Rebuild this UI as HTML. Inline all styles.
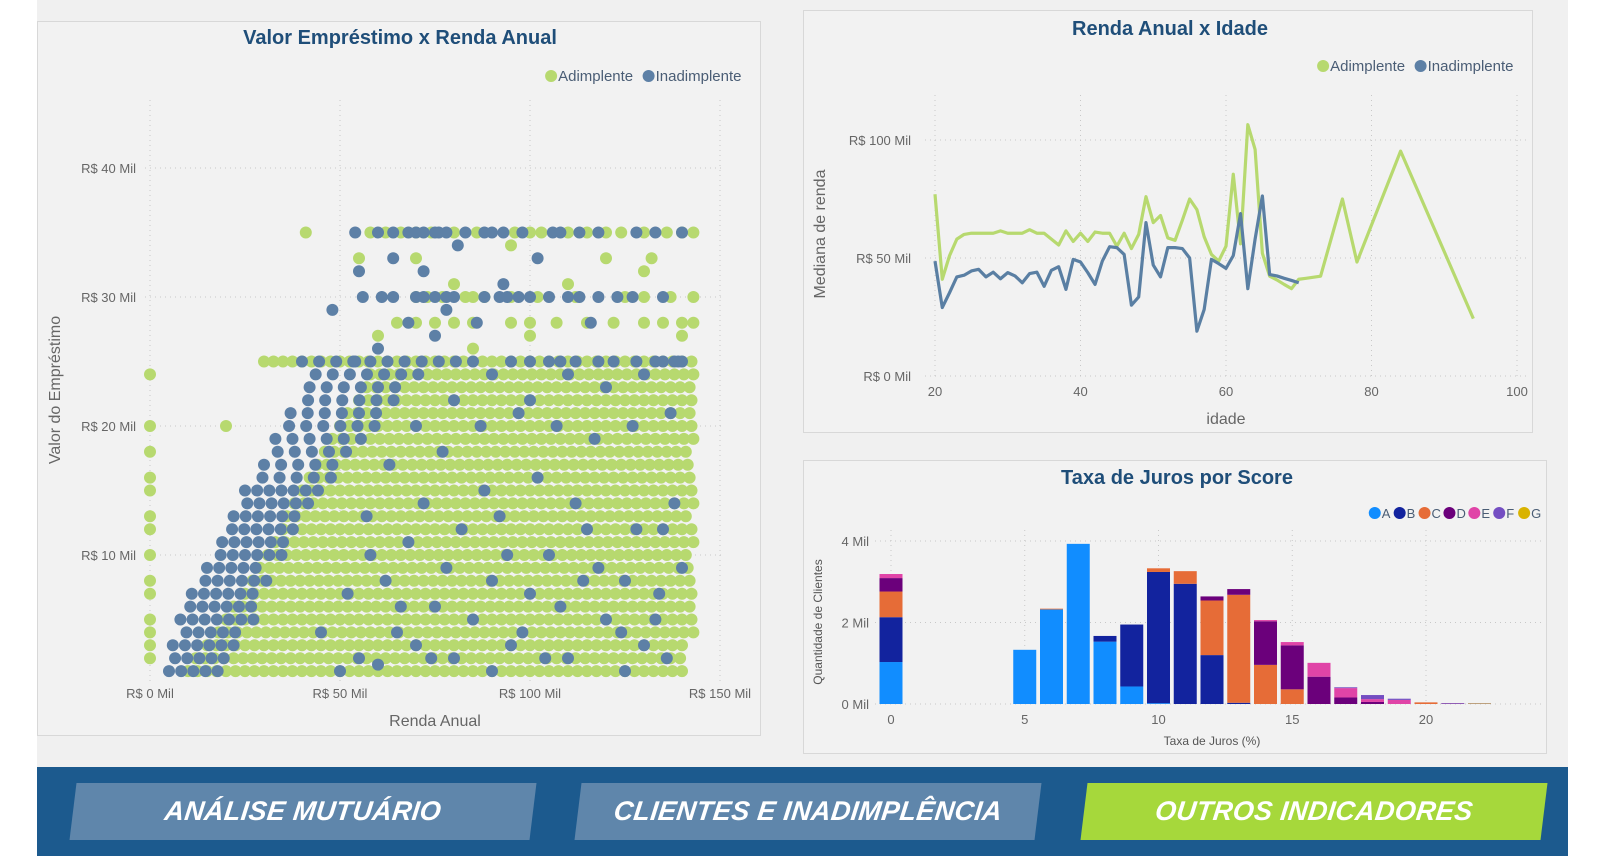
<!DOCTYPE html>
<html><head><meta charset="utf-8">
<style>
body{margin:0;width:1612px;height:856px;background:#fff;font-family:"Liberation Sans",sans-serif;overflow:hidden;position:relative}
#bg{position:absolute;left:37px;top:0;width:1531px;height:767px;background:#f0f0f0}
.panel{position:absolute;background:#f2f2f2;border:1px solid #d8d8d8;box-sizing:border-box}
svg text{font-family:"Liberation Sans",sans-serif}
#nav{position:absolute;left:37px;top:767px;width:1531px;height:89px;background:#1c5a8e}
.btn{position:absolute;top:16px;height:57px;width:460px;transform:skewX(-7deg);display:flex;align-items:center;justify-content:center}
.btn span{color:#fff;font-weight:bold;font-style:italic;font-size:27px;letter-spacing:0.3px}
</style></head><body>
<div id="bg"></div>
<div class="panel" style="left:37px;top:21px;width:724px;height:715px"></div>
<div class="panel" style="left:803px;top:10px;width:730px;height:423px"></div>
<div class="panel" style="left:803px;top:460px;width:744px;height:294px"></div>
<svg id="chart" width="1612" height="856" style="position:absolute;left:0;top:0"></svg>
<div id="nav">
<div class="btn" style="left:36px;background:#5f86ab"><span>ANÁLISE MUTUÁRIO</span></div>
<div class="btn" style="left:541px;background:#5f86ab"><span>CLIENTES E INADIMPLÊNCIA</span></div>
<div class="btn" style="left:1047px;background:#a6d83b"><span>OUTROS INDICADORES</span></div>
</div>
<script>
// ---------- Scatter data ----------
const greenBandLoan=[1,2,3,4,5,6,7,8,9,10,11,12,13,14,15,16,17,18,19,20,21,22,23,24,25];
const greenBandFrom=[10,12,15,18,20,22,25,27,29,31,33,35,36,38,40,42,44,46,48,50,52,55,57,58,30];
const greenBandTo=[140,141,142,143,143,143,143,143,143,143,143,143,143,143,143,143,143,143,143,143,143,143,143,143,143];
const greenPtsIncome=[41,58,62,66,70,74,80,86,96,100,103,110,115,120,124,130,136,140,143,70,73,77,83,85,88,95,102,112,125,130,137,143,65,70,75,80,85,95,100,107,115,122,130,135,140,143,55,70,80,95,120,130,60,100,140,132,110,85,0,0,0,0,0,0,0,0,0,0,0,0,0,0,20];
const greenPtsLoan=[35,35,35,35,35,35,35,35,35,35,35,35,35,35,35,35,35,35,35,30,30,30,30,30,30,30,30,30,30,30,30,30,28,28,28,28,28,28,28,28,28,28,28,28,28,28,33,33,31,34,33,32,27,27,27,33,31,26,2,3,4,5,7,8,10,12,13,15,16,18,20,24,20];
const blueBandLoan=[1,2,3,4,5,6,7,8,9,10,11,12,13,14,15,16,17,18,19,20,21,22,23,24,25];
const blueBandFrom=[5,5,6,8,8,9,11,13,15,17,19,20,22,24,25,28,30,32,33,35,37,40,42,42,40];
const blueBandTo=[18,22,25,25,28,28,30,32,30,36,38,40,40,42,45,48,52,55,58,62,62,65,68,72,85];
const bluePtsIncome=[50,55,60,65,70,75,80,85,90,95,100,105,110,115,120,125,130,135,140,62,68,72,78,88,92,98,102,108,112,118,128,133,138,45,52,58,66,74,82,94,104,114,124,134,57,63,77,87,97,107,117,127,137,70,80,90,100,110,120,130,139,75,68,86,78,72,55,64,81,102,93,116,54,60,48,90,136,125,
56,61,64,70,72,75,78,80,88,92,94,97,100,105,110,113,118,123,127,135,
54,60,64,68,70,72,75,76,78,83,88,90,93,98,106,108,113,118,128,133,140,
95,100,105,108,112,118,122,128,133,135,138,140];
const bluePtsLoan=[1,2,1.5,4,3,6,2,5,8,3,7,10,2,12,5,8,3,12,9,8,11,14,9,15,13,4,16,6,14,9,12,5,14,4,7,10,6,2,12,10,2,8,4,7,13,17,18,20,21,20,19,20,21,20,22,24,22,24,23,24,25,27,28,28,29,32,32,33,34,33,31,28,25,26,29,1,2,1,
30,30,30,30,30,30,30,30,30,30,30,30,30,30,30,30,30,30,30,30,
35,35,35,35,35,35,35,35,35,35,35,35,35,35,35,35,35,35,35,35,35,
25,25,25,25,25,25,25,25,25,25,25,25];
const scXTicks=[0,50,100,150];
const scYTicks=[10,20,30,40];
// ---------- Line data ----------
const ageGreen=[20,21,22,23,24,25,26,27,28,29,30,31,32,33,34,35,36,37,38,39,40,41,42,43,44,45,46,47,48,49,50,51,52,53,54,55,56,57,58,59,60,61,62,63,64,65,66,67,68,69,70,71,73,76,78,84,94];
const rendaGreen=[77,41,51,58,60,60.5,60.5,60.5,60.5,61.5,60.5,60.5,60.5,62,60.5,60.5,58,55.5,61.5,57,60.5,57,61,60.5,60.5,55,60.5,54,60,76,65,68,58.5,57.5,66,75,70.5,59,51.5,48.7,55,85.5,56,106.5,96,52,42.3,40.7,38.8,37,41,41.4,42.3,75,48.3,95.3,24.3];
const ageBlue=[20,21,22,23,24,25,26,27,28,29,30,31,32,33,34,35,36,37,38,39,40,41,42,43,44,45,46,47,48,49,50,51,52,53,54,55,56,57,58,59,60,61,62,63,64,65,66,67,68,69,70];
const rendaBlue=[48.7,29,35.3,42,42.7,44.5,45.2,42,44,41.2,43.8,42.4,39.5,43.4,44,38,44.8,46.3,36.7,49.4,48.3,43.8,38.8,48.7,54.8,54.4,51.5,30,33.5,65,47,42,54.4,54.4,54,50,19,28.2,49.4,47.6,45.6,51,68.8,37,58,76.3,43,42.4,41.4,40.5,39.5];
const lnXTicks=[20,40,60,80,100];
const lnYTicks=[0,50,100];
// ---------- Bar data ----------
const rates=[0,5,6,7,8,9,10,11,12,13,14,15,16,17,18,19,20,21,22];
const scoreNames=['A','B','C','D','E','F','G'];
const scoreColors=['#118dff','#12239e','#e66c37','#6b007b','#e044a7','#744ec2','#d9b300'];
const sA=[1.03,1.33,2.32,3.93,1.53,0.43,0.02,0,0,0,0,0,0,0,0,0,0,0,0];
const sB=[1.10,0,0,0,0.14,1.52,3.22,2.95,1.20,0.03,0,0,0,0,0,0,0,0,0];
const sC=[0.63,0,0.02,0,0,0,0.09,0.31,1.34,2.65,0.96,0.36,0,0,0,0,0.04,0,0];
const sD=[0.33,0,0,0,0,0,0,0,0.1,0.14,1.07,1.08,0.67,0.16,0.05,0,0,0.01,0];
const sE=[0.10,0,0,0,0,0,0,0,0,0,0.03,0.08,0.34,0.23,0.07,0.1,0,0,0];
const sF=[0,0,0,0,0,0,0,0,0,0,0,0,0,0.02,0.1,0.03,0,0.01,0.01];
const sG=[0,0,0,0,0,0,0,0,0,0,0,0,0,0,0,0,0,0,0.01];
const barXTicks=[0,5,10,15,20];
const barYTicks=[0,2,4];

const NS='http://www.w3.org/2000/svg';
const svg=document.getElementById('chart');
function mk(tag,attrs,parent){const e=document.createElementNS(NS,tag);for(const k in attrs)e.setAttribute(k,attrs[k]);(parent||svg).appendChild(e);return e;}
function txt(x,y,s,size,color,anchor,extra){const t=mk('text',Object.assign({x:x,y:y,'font-size':size,fill:color,'text-anchor':anchor||'start'},extra||{}));t.textContent=s;return t;}

// ===== Scatter =====
const sx=v=>150+v*(570/150), sy=v=>684-v*12.9;
let t;
t=txt(400,44,'Valor Empréstimo x Renda Anual',20,'#1f4e79','middle',{'font-weight':'bold'});


scXTicks.forEach(v=>{
  const l=mk('line',{x1:sx(v),x2:sx(v),y1:100,y2:684,stroke:'#c8c8c8','stroke-dasharray':'1,4'});
  
  
  const tl=txt(sx(v),698,'R$ '+v+' Mil',13,'#666','middle');
  
  
});
scYTicks.forEach(v=>{
  const l=mk('line',{x1:145,x2:725,y1:sy(v),y2:sy(v),stroke:'#c8c8c8','stroke-dasharray':'1,4'});
  
  
  const tl=txt(136,sy(v)+5,'R$ '+v+' Mil',13,'#666','end');
  
  
});
t=txt(435,726,'Renda Anual',16,'#666','middle');


t=txt(60,390,'Valor do Empréstimo',16,'#666','middle',{transform:'rotate(-90 60 390)'});


const gG=mk('g',{});


const GREEN='#b7d96f',BLUE='#5d80a6';
greenBandLoan.forEach((L,i)=>{for(let x=greenBandFrom[i];x<=greenBandTo[i];x+=2.5){const c=mk('circle',{cx:sx(x),cy:sy(L),r:6,fill:GREEN},gG);}});
greenPtsIncome.forEach((x,i)=>{const c=mk('circle',{cx:sx(x),cy:sy(greenPtsLoan[i]),r:6,fill:GREEN},gG);});
const gB=mk('g',{});


blueBandLoan.forEach((L,i)=>{const step=L>15?4.5:3.2;for(let x=blueBandFrom[i]+(i%2)*1.6;x<=blueBandTo[i];x+=step){const c=mk('circle',{cx:sx(x),cy:sy(L),r:6,fill:BLUE},gB);}});
bluePtsIncome.forEach((x,i)=>{const c=mk('circle',{cx:sx(x),cy:sy(bluePtsLoan[i]),r:6,fill:BLUE},gB);});
function legend(xEnd,y,items,colors,size,name){
  let x=xEnd;
  for(let i=items.length-1;i>=0;i--){
    const w=items[i].length*size*0.53;
    x-=w;
    const tt=txt(x,y+5,items[i],size,'#4a5d75','start');
    
    
    const c=mk('circle',{cx:x-7,cy:y,r:6,fill:colors[i]});
    
    
    x-=18;
  }
}
legend(751,76,['Adimplente','Inadimplente'],[GREEN,BLUE],15,'scatter-legend');

// ===== Line =====
const lx=v=>935+(v-20)*(582/80), ly=v=>376-v*2.36;
t=txt(1170,35,'Renda Anual x Idade',20,'#1f4e79','middle',{'font-weight':'bold'});


legend(1523,66,['Adimplente','Inadimplente'],[GREEN,BLUE],15,'line-legend');
lnXTicks.forEach(v=>{
  const l=mk('line',{x1:lx(v),x2:lx(v),y1:95,y2:376,stroke:'#c8c8c8','stroke-dasharray':'1,4'});
  
  
  const tl=txt(lx(v),396,String(v),13,'#666','middle');
  
  
});
lnYTicks.forEach(v=>{
  const l=mk('line',{x1:925,x2:1528,y1:ly(v),y2:ly(v),stroke:'#c8c8c8','stroke-dasharray':'1,4'});
  
  
  const tl=txt(911,ly(v)+5,'R$ '+v+' Mil',13,'#666','end');
  
  
});
t=txt(1226,424,'idade',16,'#666','middle');


t=txt(825,234,'Mediana de renda',16,'#666','middle',{transform:'rotate(-90 825 234)'});


let p=mk('polyline',{points:ageGreen.map((a,i)=>lx(a)+','+ly(rendaGreen[i])).join(' '),fill:'none',stroke:GREEN,'stroke-width':3.2,'stroke-linejoin':'round'});


p=mk('polyline',{points:ageBlue.map((a,i)=>lx(a)+','+ly(rendaBlue[i])).join(' '),fill:'none',stroke:'#5a7fa3','stroke-width':3.2,'stroke-linejoin':'round'});



// ===== Bar =====
const bx=v=>891+v*26.75, by=v=>704-v*40.75;
t=txt(1177,484,'Taxa de Juros por Score',20,'#1f4e79','middle',{'font-weight':'bold'});


legend(1538,513,scoreNames,scoreColors,13,'bar-legend');
barXTicks.forEach(v=>{
  const l=mk('line',{x1:bx(v),x2:bx(v),y1:530,y2:704,stroke:'#c8c8c8','stroke-dasharray':'1,4'});
  
  
  const tl=txt(bx(v),724,String(v),13,'#666','middle');
  
  
});
barYTicks.forEach(v=>{
  const l=mk('line',{x1:875,x2:1542,y1:by(v),y2:by(v),stroke:'#c8c8c8','stroke-dasharray':'1,4'});
  
  
  const tl=txt(869,by(v)+5,v+' Mil',13,'#666','end');
  
  
});
t=txt(1212,745,'Taxa de Juros (%)',12,'#555','middle');


t=txt(822,622,'Quantidade de Clientes',12,'#555','middle',{transform:'rotate(-90 822 622)'});


const series=[sA,sB,sC,sD,sE,sF,sG];
rates.forEach((r,i)=>{
  let acc=0;
  series.forEach((s,k)=>{
    const v=s[i]; if(v<=0) return;
    const rc=mk('rect',{x:bx(r)-11.5,y:by(acc+v),width:23,height:by(acc)-by(acc+v),fill:scoreColors[k]});
    
    
    acc+=v;
  });
});
</script>
</body></html>
